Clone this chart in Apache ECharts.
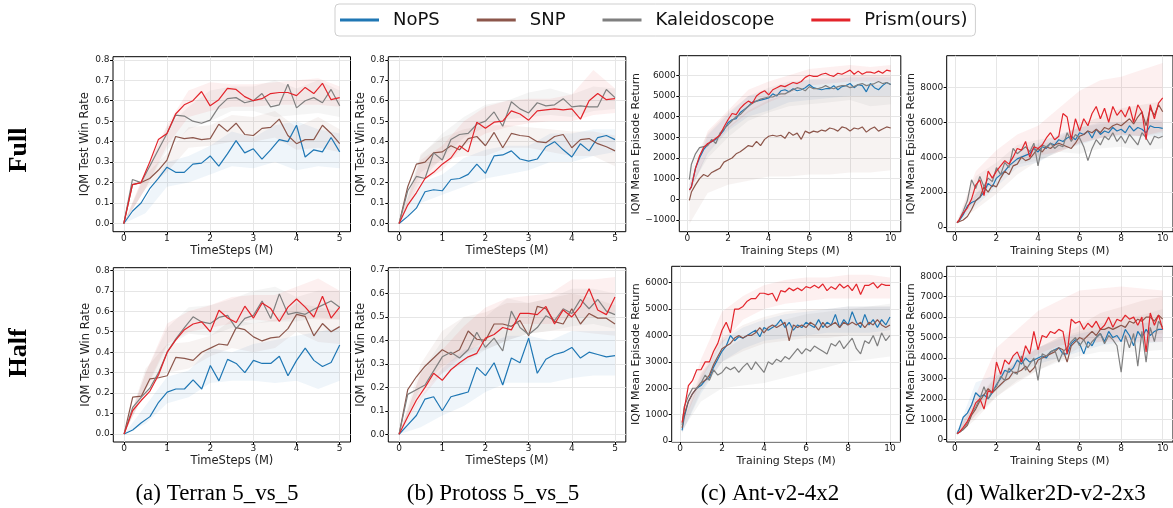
<!DOCTYPE html>
<html><head><meta charset="utf-8">
<script src="https://cdn.jsdelivr.net/npm/echarts@6/dist/echarts.min.js"></script>
<style>html,body{margin:0;padding:0;background:#fff}#c{width:1173px;height:508px}</style>
</head><body><div id="c"></div>
<script>
// ---------- categories / ticks ----------
const methods = ['NoPS', 'SNP', 'Kaleidoscope', 'Prism(ours)'];
const smacSteps = [0,0.2,0.4,0.6,0.8,1,1.2,1.4,1.6,1.8,2,2.2,2.4,2.6,2.8,3,3.2,3.4,3.6,3.8,4,4.2,4.4,4.6,4.8,5];
const smacBandSteps = [0,0.5,1,1.5,2,2.5,3,3.5,4,4.5,5];
const mujocoSteps = [0.1,0.2,0.4,0.6,0.8,1,1.2,1.4,1.6,1.8,2,2.2,2.4,2.6,2.8,3,3.2,3.4,3.6,3.8,4,4.2,4.4,4.6,4.8,5,5.2,5.4,5.6,5.8,6,6.2,6.4,6.6,6.8,7,7.2,7.4,7.6,7.8,8,8.2,8.4,8.6,8.8,9,9.2,9.4,9.6,9.8,10];
const mujocoBandSteps = [0.1,1,2,3,4,5,6,7,8,9,10];
const smacXTicks = [0,1,2,3,4,5];
const mujocoXTicks = [0,2,4,6,8,10];
const winTicks8 = [0,0.1,0.2,0.3,0.4,0.5,0.6,0.7,0.8];
const winTicks7 = [0,0.1,0.2,0.3,0.4,0.5,0.6,0.7];
const antFullTicks = [-1000,0,1000,2000,3000,4000,5000,6000];
const walkerFullTicks = [0,2000,4000,6000,8000];
const antHalfTicks = [0,1000,2000,3000,4000,5000,6000];
const walkerHalfTicks = [0,1000,2000,3000,4000,5000,6000,7000,8000];
const rowLabels = ['Full', 'Half'];
const captions = ['(a) Terran 5_vs_5', '(b) Protoss 5_vs_5', '(c) Ant-v2-4x2', '(d) Walker2D-v2-2x3'];

// ---------- (a) Terran, Full ----------
const terranFullNoPS = [0,0.06,0.10,0.17,0.22,0.275,0.25,0.25,0.29,0.295,0.33,0.28,0.34,0.405,0.345,0.365,0.315,0.36,0.41,0.40,0.48,0.325,0.36,0.35,0.42,0.35];
const terranFullSNP = [0,0.19,0.20,0.22,0.26,0.31,0.425,0.415,0.42,0.41,0.415,0.485,0.45,0.49,0.435,0.43,0.465,0.47,0.51,0.43,0.39,0.41,0.41,0.48,0.44,0.39];
const terranFullKal = [0,0.215,0.20,0.28,0.36,0.44,0.53,0.525,0.50,0.49,0.505,0.57,0.61,0.615,0.59,0.60,0.635,0.57,0.58,0.68,0.565,0.60,0.615,0.59,0.655,0.575];
const terranFullPrism = [0,0.19,0.20,0.30,0.41,0.44,0.535,0.58,0.60,0.645,0.575,0.605,0.66,0.655,0.62,0.60,0.61,0.635,0.64,0.64,0.625,0.665,0.635,0.685,0.605,0.615];
const terranFullLo = [[0,0.05,0.18,0.20,0.24,0.28,0.27,0.30,0.26,0.28,0.27],[0,0.17,0.25,0.37,0.38,0.40,0.40,0.42,0.36,0.37,0.35],[0,0.17,0.36,0.46,0.50,0.55,0.55,0.52,0.53,0.54,0.52],[0,0.17,0.38,0.52,0.55,0.57,0.57,0.58,0.58,0.58,0.57]];
const terranFullHi = [[0,0.12,0.30,0.33,0.38,0.45,0.42,0.48,0.50,0.46,0.44],[0,0.24,0.34,0.47,0.48,0.53,0.52,0.55,0.47,0.52,0.46],[0,0.25,0.47,0.57,0.65,0.67,0.67,0.70,0.66,0.70,0.65],[0,0.26,0.48,0.65,0.69,0.68,0.68,0.69,0.70,0.71,0.67]];

// ---------- (b) Protoss, Full ----------
const protossFullNoPS = [0,0.035,0.075,0.155,0.165,0.16,0.215,0.22,0.24,0.29,0.245,0.33,0.335,0.355,0.315,0.305,0.315,0.375,0.40,0.36,0.325,0.39,0.355,0.42,0.43,0.41];
const protossFullSNP = [0,0.18,0.29,0.30,0.345,0.35,0.38,0.36,0.415,0.425,0.38,0.445,0.37,0.44,0.43,0.425,0.40,0.395,0.425,0.435,0.37,0.41,0.415,0.39,0.375,0.355];
const protossFullKal = [0,0.16,0.23,0.22,0.345,0.31,0.41,0.435,0.44,0.485,0.50,0.545,0.475,0.595,0.56,0.54,0.59,0.575,0.58,0.61,0.57,0.575,0.57,0.57,0.655,0.615];
const protossFullPrism = [0,0.09,0.15,0.22,0.25,0.29,0.32,0.38,0.35,0.495,0.465,0.495,0.50,0.55,0.535,0.505,0.55,0.555,0.56,0.555,0.56,0.51,0.60,0.635,0.605,0.61];
const protossFullLo = [[0,0.10,0.14,0.18,0.22,0.24,0.26,0.30,0.30,0.33,0.35],[0,0.25,0.31,0.33,0.33,0.37,0.37,0.35,0.33,0.33,0.28],[0,0.21,0.32,0.42,0.47,0.51,0.52,0.53,0.52,0.55,0.56],[0,0.20,0.26,0.38,0.44,0.47,0.49,0.50,0.50,0.53,0.54]];
const protossFullHi = [[0,0.20,0.24,0.32,0.36,0.38,0.38,0.44,0.44,0.46,0.46],[0,0.34,0.42,0.46,0.48,0.48,0.47,0.46,0.45,0.45,0.43],[0,0.33,0.44,0.52,0.58,0.60,0.64,0.66,0.63,0.67,0.66],[0,0.31,0.38,0.50,0.57,0.60,0.61,0.61,0.63,0.75,0.66]];

// ---------- (c) Ant, Full ----------
const antFullNoPS = [450,600,1500,2000,2400,2650,2800,2900,3100,3350,3700,3850,3900,4200,4350,4500,4700,4750,4800,4850,4900,5100,5000,5250,5300,5200,5350,5250,5300,5400,5550,5400,5350,5300,5350,5350,5500,5300,5450,5500,5600,5400,5550,5500,5200,5600,5400,5300,5500,5650,5550];
const antFullSNP = [-50,350,700,1000,1200,1100,1300,1400,1500,1800,1900,2000,2200,2300,2450,2600,2550,2800,2600,2900,3050,3100,3050,3100,2950,3250,3100,3200,2900,3300,3200,3300,3250,3350,3300,3450,3400,3300,3500,3450,3300,3450,3400,3500,3250,3400,3500,3300,3400,3500,3450];
const antFullKal = [950,1700,2200,2500,2550,2600,2900,2700,3200,3400,3600,3800,4000,4100,4300,4500,4650,4750,4850,4900,4950,4950,5050,5100,5100,5200,5300,5400,5350,5250,5450,5350,5350,5400,5500,5400,5350,5450,5500,5500,5400,5450,5550,5600,5500,5550,5600,5700,5600,5650,5550];
const antFullPrism = [450,600,1500,2100,2500,2700,2800,2950,3100,3500,3850,4150,4100,4400,4600,4750,4650,5000,5150,5250,5050,5300,5400,5500,5450,5550,5650,5600,5700,5900,6000,5950,5950,6050,6100,6000,5950,6100,6050,6150,6250,6050,6200,6050,6150,6150,6100,6200,6100,6250,6200];
const antFullLo = [[300,2200,3300,4000,4300,4700,4800,4900,5000,5000,5000],[-1200,300,700,900,1100,1100,1200,1200,1300,1300,1400],[500,2000,3000,3800,4200,4500,4600,4700,4800,4500,4600],[300,2300,3400,4200,4700,5100,5500,5600,5700,5700,5700]];
const antFullHi = [[700,3100,4100,5000,5200,5600,5800,5800,5900,5900,5900],[500,2300,3500,4300,4800,5100,5300,5400,5500,5500,5600],[1500,3200,4200,5000,5400,5700,5800,5900,6000,6000,6000],[700,3300,4300,5300,5700,6000,6300,6400,6500,6400,6500]];

// ---------- (d) Walker2D, Full ----------
const walkerFullNoPS = [250,350,700,1200,1400,1500,1700,2000,2500,2300,2800,3000,3200,3500,3700,3900,4000,4100,4200,4500,4300,4600,4500,4800,4700,5000,4900,5100,5200,5000,5400,5300,5500,5100,5600,5300,5500,5400,5700,5500,5600,5400,5800,5500,5700,5600,5400,5800,5700,5700,5650];
const walkerFullSNP = [250,300,400,600,1000,1500,1700,2300,2000,2400,2300,2800,3200,3000,3500,3600,4000,3800,3900,4200,4500,4300,4600,4500,4700,4800,4700,4600,4500,4800,5200,5300,5500,5400,5600,5400,5700,5600,5800,5900,5800,6000,6200,5900,6300,6600,5800,6800,6400,7000,6600];
const walkerFullKal = [250,400,900,1500,2700,2200,2900,2300,2800,2600,3400,3000,3700,3400,4500,4200,4400,4600,4300,4800,3500,4700,4600,4800,4500,4700,4600,5400,4900,5300,5100,4600,3800,4500,5000,4700,5200,5000,5400,4900,5200,4800,5300,5000,4700,5400,5100,4700,5200,5100,5200];
const walkerFullPrism = [250,400,800,1100,1600,2400,2700,1800,3200,2800,3200,3500,3800,3600,4000,4500,4400,4900,4000,4600,4500,4700,5100,5400,5000,5200,6500,6300,5000,6200,5500,6200,5800,6500,6900,6200,6800,6000,6900,6400,6700,6300,6900,6000,7000,6600,5000,7000,6200,7100,7400];
const walkerFullLo = [[200,1200,2300,3400,3700,4400,4700,5100,5200,5200,5200],[200,1000,1900,3000,3800,4300,4800,5100,5300,5200,5400],[200,1600,2700,3600,3800,4300,4200,4500,4600,4400,4500],[200,1500,2800,3800,4100,4300,4800,5100,5300,5200,5500]];
const walkerFullHi = [[300,1900,3200,4300,4800,5300,5700,6000,6000,6200,6100],[300,1900,2800,4000,4700,5000,5900,6300,6800,7000,7200],[300,2900,3700,4700,5000,5200,5700,5900,6000,6000,6000],[300,3200,4400,5300,5800,6800,7800,8400,8600,9000,9400]];

// ---------- (a) Terran, Half ----------
const terranHalfNoPS = [0,0.02,0.055,0.085,0.155,0.205,0.22,0.22,0.265,0.22,0.335,0.26,0.365,0.345,0.30,0.36,0.345,0.345,0.38,0.285,0.36,0.42,0.36,0.33,0.35,0.435];
const terranHalfSNP = [0,0.18,0.185,0.27,0.275,0.285,0.375,0.37,0.36,0.40,0.42,0.44,0.435,0.52,0.51,0.475,0.455,0.47,0.475,0.515,0.585,0.575,0.48,0.54,0.50,0.525];
const terranHalfKal = [0,0.13,0.18,0.225,0.30,0.40,0.465,0.52,0.573,0.548,0.54,0.57,0.58,0.515,0.565,0.58,0.65,0.565,0.685,0.585,0.595,0.585,0.61,0.63,0.65,0.62];
const terranHalfPrism = [0,0.115,0.165,0.21,0.29,0.40,0.46,0.51,0.538,0.548,0.50,0.605,0.567,0.545,0.625,0.567,0.64,0.613,0.55,0.62,0.66,0.62,0.572,0.673,0.567,0.62];
const terranHalfLo = [[0,0.05,0.15,0.18,0.25,0.26,0.26,0.25,0.26,0.22,0.26],[0,0.22,0.30,0.32,0.38,0.42,0.40,0.42,0.50,0.45,0.44],[0,0.21,0.43,0.49,0.48,0.52,0.54,0.55,0.55,0.57,0.56],[0,0.22,0.44,0.50,0.52,0.54,0.56,0.55,0.57,0.56,0.56]];
const terranHalfHi = [[0,0.14,0.28,0.31,0.42,0.40,0.44,0.46,0.48,0.50,0.52],[0,0.32,0.44,0.45,0.48,0.56,0.54,0.56,0.64,0.62,0.60],[0,0.30,0.52,0.62,0.63,0.66,0.70,0.72,0.67,0.70,0.70],[0,0.30,0.54,0.60,0.63,0.67,0.68,0.68,0.72,0.76,0.70]];

// ---------- (b) Protoss, Half ----------
const protossHalfNoPS = [0,0.04,0.08,0.15,0.16,0.10,0.16,0.17,0.18,0.285,0.25,0.305,0.21,0.325,0.305,0.41,0.26,0.32,0.34,0.35,0.37,0.325,0.35,0.34,0.33,0.335];
const protossHalfSNP = [0,0.19,0.245,0.29,0.325,0.36,0.34,0.36,0.44,0.405,0.40,0.47,0.47,0.46,0.485,0.42,0.545,0.535,0.48,0.47,0.535,0.47,0.515,0.495,0.495,0.47];
const protossHalfKal = [0,0.17,0.19,0.21,0.27,0.33,0.35,0.325,0.36,0.435,0.37,0.41,0.355,0.525,0.455,0.425,0.455,0.505,0.485,0.535,0.515,0.575,0.535,0.575,0.525,0.51];
const protossHalfPrism = [0,0.075,0.145,0.20,0.26,0.23,0.275,0.305,0.33,0.345,0.41,0.425,0.455,0.445,0.515,0.515,0.51,0.545,0.47,0.53,0.50,0.545,0.62,0.53,0.51,0.585];
const protossHalfLo = [[0,0.03,0.08,0.12,0.18,0.22,0.22,0.22,0.24,0.25,0.25],[0,0.20,0.29,0.34,0.36,0.40,0.43,0.44,0.44,0.43,0.42],[0,0.18,0.26,0.30,0.36,0.40,0.43,0.44,0.46,0.47,0.45],[0,0.15,0.26,0.34,0.40,0.47,0.47,0.47,0.50,0.50,0.52]];
const protossHalfHi = [[0,0.16,0.28,0.36,0.38,0.42,0.42,0.40,0.44,0.44,0.44],[0,0.30,0.44,0.50,0.52,0.56,0.56,0.58,0.60,0.58,0.55],[0,0.26,0.40,0.50,0.50,0.58,0.56,0.58,0.62,0.62,0.60],[0,0.26,0.36,0.46,0.54,0.58,0.59,0.60,0.66,0.66,0.67]];

// ---------- (c) Ant, Half ----------
const antHalfNoPS = [400,900,1500,1800,2000,2100,2300,2400,2800,3100,3400,3600,4000,3800,3950,3900,4000,4100,4200,3950,4300,4200,4300,4400,4600,4300,4500,4200,4400,4300,4500,4400,4300,4600,4300,4500,4400,4800,4300,4600,4400,4900,4500,4300,4800,4400,4600,4300,4600,4400,4700];
const antHalfSNP = [500,1000,1500,1800,2000,2200,2300,2500,2900,3200,3500,3600,3700,3900,4000,3900,4000,4000,4100,4300,4100,4300,4400,4300,4400,4500,3800,4400,4300,4400,4300,4500,4400,4200,4500,4300,4400,4500,4300,4500,4400,4500,4400,4500,4300,4500,4400,4600,4400,4300,4400];
const antHalfKal = [600,1300,1700,2000,2000,2200,2500,2300,2700,2500,2600,2800,2700,2800,2600,2800,2950,2700,3000,2800,2600,3000,2900,3100,3000,3200,3100,3300,3500,3300,3500,3400,3600,3500,3400,3300,3700,3600,3800,3500,3700,3900,3500,3300,3800,3700,4000,3600,4100,3800,4000];
const antHalfPrism = [700,1200,2100,2300,2700,2700,3000,3000,3400,3700,4200,4500,4100,5000,5000,5100,5300,5400,5400,5600,5600,5550,5600,5300,5700,5650,5800,5700,5800,5700,5850,5800,5900,5800,5950,5700,5850,5750,5950,5800,5900,5700,5950,5550,5900,5900,6000,5800,5950,5900,5900];
const antHalfLo = [[300,1800,3000,3500,3800,3900,4000,4100,4100,4100,4200],[300,1900,3000,3400,3700,3800,3900,3900,4000,4000,4000],[400,1500,2000,2100,2200,2400,2600,2800,3000,3100,3200],[500,2300,3700,4600,5000,5200,5300,5400,5400,5400,5400]];
const antHalfHi = [[600,2400,3800,4300,4600,4800,4900,5000,5100,5100,5100],[700,2500,3900,4400,4700,4900,5000,5000,5100,5100,5100],[800,2600,3400,3900,4300,4600,4800,4900,5000,5100,5200],[900,3100,4900,5500,5900,6100,6200,6200,6300,6300,6200]];

// ---------- (d) Walker2D, Half ----------
const walkerHalfNoPS = [300,500,1100,1300,1700,2300,2100,2200,2000,2300,2700,3000,3400,3300,3500,3900,3700,4000,3800,3900,4000,4100,4000,4300,4400,4500,4200,4200,4700,4900,4700,4200,4800,4600,5000,5200,4800,5300,5000,5100,4800,5400,5100,4600,5300,5000,5400,5100,5300,5400,5400];
const walkerHalfSNP = [300,350,500,700,1200,1500,1900,2200,2500,2300,2500,2700,2900,3000,3300,3300,3400,3600,3300,3500,3900,4000,4100,4200,4300,4500,4400,3800,4600,4800,5000,4900,5100,5300,5100,5400,5400,5500,5400,5500,5600,5500,5800,5700,5900,5800,6000,6000,5800,6100,5900];
const walkerHalfKal = [300,350,500,800,1300,1600,2000,2600,2000,2400,2600,3100,2900,3500,3300,3200,4100,3400,3700,4000,2900,4200,4100,4300,4400,3800,4300,4500,4800,5000,4600,4900,4500,4800,5000,5200,4700,5100,4900,4600,3300,5100,4500,5200,3600,5300,3800,5500,4800,5800,5500];
const walkerHalfPrism = [300,350,600,900,1300,1800,2000,1500,2400,2300,3800,3200,3900,3700,4100,4300,3800,4600,4200,5300,4400,5100,5000,5300,5200,5400,5300,4200,5900,5700,5800,5400,5700,5500,5800,5400,5600,6000,5500,5900,5800,6100,5900,6000,5600,6000,4300,6200,5600,6100,5400];
const walkerHalfLo = [[200,1700,2400,3300,3700,4000,4300,4600,4800,4700,4800],[200,1000,2100,2800,3400,3900,4500,4800,5000,5100,5200],[200,1200,2100,2900,3400,3800,4100,4300,4300,4300,4400],[200,1200,2600,3600,4200,4600,4800,4800,4800,4800,4800]];
const walkerHalfHi = [[400,2800,3200,4300,4500,4900,5200,5400,5600,5700,5800],[400,1800,3100,3800,4500,5000,5600,6200,6500,6800,7000],[400,2000,3100,3900,4500,5000,5300,5700,5900,6100,6400],[400,2200,4500,5400,6300,6800,7300,7400,7500,7400,7300]];

// ---------- styling ----------
const colors = ['#1f77b4', '#8c564b', '#7f7f7f', '#e3242b'];
const bandColors = ['rgba(31,119,180,0.07)', 'rgba(140,86,75,0.07)', 'rgba(127,127,127,0.08)', 'rgba(227,36,43,0.07)'];
const FONT = '"DejaVu Sans", Verdana, sans-serif';
const SERIF = '"Liberation Serif", "Times New Roman", serif';

const panels = [
  {grid:{left:113, top:56.7, width:237.5, height:175}, steps:smacSteps, bs:smacBandSteps,
   lines:[terranFullNoPS,terranFullSNP,terranFullKal,terranFullPrism], lo:terranFullLo, hi:terranFullHi,
   xr:[-0.25,5.25], xt:smacXTicks, yr:[-0.04,0.815], yt:winTicks8, dec:true,
   xName:'TimeSteps (M)', yName:'IQM Test Win Rate', ns:11.5, yGap:18, xGap:13.5},
  {grid:{left:388.3, top:56.7, width:237.5, height:175}, steps:smacSteps, bs:smacBandSteps,
   lines:[protossFullNoPS,protossFullSNP,protossFullKal,protossFullPrism], lo:protossFullLo, hi:protossFullHi,
   xr:[-0.25,5.25], xt:smacXTicks, yr:[-0.04,0.815], yt:winTicks8, dec:true,
   xName:'TimeSteps (M)', yName:'IQM Test Win Rate', ns:11.5, yGap:18, xGap:13.5},
  {grid:{left:679.3, top:55.7, width:221.5, height:176}, steps:mujocoSteps, bs:mujocoBandSteps,
   lines:[antFullNoPS,antFullSNP,antFullKal,antFullPrism], lo:antFullLo, hi:antFullHi,
   xr:[-0.395,10.495], xt:mujocoXTicks, yr:[-1567,6947], yt:antFullTicks, dec:false,
   xName:'Training Steps (M)', yName:'IQM Mean Episode Return', ns:11, yGap:35.8, xGap:13.5},
  {grid:{left:946.7, top:55.7, width:229.1, height:176}, steps:mujocoSteps, bs:mujocoBandSteps,
   lines:[walkerFullNoPS,walkerFullSNP,walkerFullKal,walkerFullPrism], lo:walkerFullLo, hi:walkerFullHi,
   xr:[-0.395,10.495], xt:mujocoXTicks, yr:[-269,9811], yt:walkerFullTicks, dec:false,
   xName:'Training Steps (M)', yName:'IQM Mean Episode Return', ns:11, yGap:27.9, xGap:13.5},
  {grid:{left:113.3, top:267.7, width:237.2, height:174.3}, steps:smacSteps, bs:smacBandSteps,
   lines:[terranHalfNoPS,terranHalfSNP,terranHalfKal,terranHalfPrism], lo:terranHalfLo, hi:terranHalfHi,
   xr:[-0.25,5.25], xt:smacXTicks, yr:[-0.039,0.813], yt:winTicks8, dec:true,
   xName:'TimeSteps (M)', yName:'IQM Test Win Rate', ns:11.5, yGap:18, xGap:13.5},
  {grid:{left:388.3, top:267.7, width:237.5, height:174.3}, steps:smacSteps, bs:smacBandSteps,
   lines:[protossHalfNoPS,protossHalfSNP,protossHalfKal,protossHalfPrism], lo:protossHalfLo, hi:protossHalfHi,
   xr:[-0.25,5.25], xt:smacXTicks, yr:[-0.033,0.71], yt:winTicks7, dec:true,
   xName:'TimeSteps (M)', yName:'IQM Test Win Rate', ns:11.5, yGap:18, xGap:13.5},
  {grid:{left:671.7, top:266.3, width:228.7, height:175.7}, steps:mujocoSteps, bs:mujocoBandSteps,
   lines:[antHalfNoPS,antHalfSNP,antHalfKal,antHalfPrism], lo:antHalfLo, hi:antHalfHi,
   xr:[-0.395,10.495], xt:mujocoXTicks, yr:[-38,6622], yt:antHalfTicks, dec:false,
   xName:'Training Steps (M)', yName:'IQM Mean Episode Return', ns:11, yGap:28.5, xGap:13.5},
  {grid:{left:946.7, top:266.3, width:229.1, height:175.7}, steps:mujocoSteps, bs:mujocoBandSteps,
   lines:[walkerHalfNoPS,walkerHalfSNP,walkerHalfKal,walkerHalfPrism], lo:walkerHalfLo, hi:walkerHalfHi,
   xr:[-0.395,10.495], xt:mujocoXTicks, yr:[-113,8488], yt:walkerHalfTicks, dec:false,
   xName:'Training Steps (M)', yName:'IQM Mean Episode Return', ns:11, yGap:28.5, xGap:13.5}
];

const grids = [], xAxes = [], yAxes = [], series = [];
const tickStyle = {show:true, length:3, lineStyle:{color:'#000', width:1}};
const splitStyle = {show:true, lineStyle:{color:'#e6e6e6', width:1}};
panels.forEach((p, i) => {
  grids.push(Object.assign({show:true, borderColor:'#000', borderWidth:1, backgroundColor:'transparent'}, p.grid));
  xAxes.push({
    gridIndex:i, type:'value', min:p.xr[0], max:p.xr[1],
    axisLine:{show:false, onZero:false},
    axisTick:Object.assign({customValues:p.xt}, tickStyle),
    axisLabel:{customValues:p.xt, margin:2.5, fontSize:9, color:'#222', fontFamily:FONT, formatter:v => String(v)},
    splitLine:splitStyle,
    name:p.xName, nameLocation:'middle', nameGap:p.xGap,
    nameTextStyle:{fontSize:p.ns, color:'#222', fontFamily:FONT}
  });
  yAxes.push({
    gridIndex:i, type:'value', min:p.yr[0], max:p.yr[1],
    axisLine:{show:false, onZero:false},
    axisTick:Object.assign({customValues:p.yt}, tickStyle),
    axisLabel:{customValues:p.yt, margin:3.5, fontSize:9, color:'#222', fontFamily:FONT,
      formatter:v => p.dec ? v.toFixed(1) : (v < 0 ? '\u2212' + Math.abs(v) : String(v))},
    splitLine:splitStyle,
    name:p.yName, nameLocation:'middle', nameGap:p.yGap,
    nameTextStyle:{fontSize:p.ns, color:'#222', fontFamily:FONT}
  });
  // shaded bands (drawn through the axes' scales)
  p.lines.forEach((vals, j) => {
    const lo = p.lo[j], hi = p.hi[j], bs = p.bs;
    series.push({
      type:'custom', name:'band', xAxisIndex:i, yAxisIndex:i, silent:true, clip:true, z:1,
      data:bs.map((x, k) => [x, lo[k], hi[k]]),
      encode:{x:0, y:[1, 2]},
      renderItem:(params, api) => {
        if (params.dataIndex !== 0) return null;
        const up = bs.map((x, k) => api.coord([x, hi[k]]));
        const dn = bs.map((x, k) => api.coord([x, lo[k]])).reverse();
        return {type:'polygon', shape:{points:up.concat(dn)}, style:{fill:bandColors[j], stroke:null}};
      }
    });
  });
  p.lines.forEach((vals, j) => {
    series.push({
      type:'line', name:methods[j], xAxisIndex:i, yAxisIndex:i, z:3 + j,
      data:p.steps.map((x, k) => [x, vals[k]]),
      showSymbol:false, symbol:'none', clip:true,
      lineStyle:{width:1.2, color:colors[j]}, itemStyle:{color:colors[j]}
    });
  });
});

const graphic = [
  {type:'text', x:19, y:150, rotation:Math.PI/2, style:{text:rowLabels[0], font:'bold 26px ' + SERIF, fill:'#000', align:'center', verticalAlign:'middle'}},
  {type:'text', x:19, y:353, rotation:Math.PI/2, style:{text:rowLabels[1], font:'bold 26px ' + SERIF, fill:'#000', align:'center', verticalAlign:'middle'}}
];
const capX = [217, 493, 770, 1046];
captions.forEach((c, i) => graphic.push({type:'text', x:capX[i], y:494, style:{text:c, font:'23px ' + SERIF, fill:'#000', align:'center', verticalAlign:'middle'}}));

const chart = echarts.init(document.getElementById('c'), null, {renderer:'canvas'});
chart.setOption({
  animation:false,
  backgroundColor:'#fff',
  color:colors,
  legend:{
    data:methods, left:335, top:4, orient:'horizontal',
    icon:'rect', itemWidth:39, itemHeight:3, itemGap:37,
    padding:[7, 8, 7, 5], borderColor:'#cfcfcf', borderWidth:1, borderRadius:4, backgroundColor:'#fff',
    textStyle:{fontSize:18, color:'#111', fontFamily:FONT, padding:[0,0,0,9], lineHeight:18},
    selectedMode:false
  },
  grid:grids, xAxis:xAxes, yAxis:yAxes, series:series, graphic:graphic
});
</script>
</body></html>
